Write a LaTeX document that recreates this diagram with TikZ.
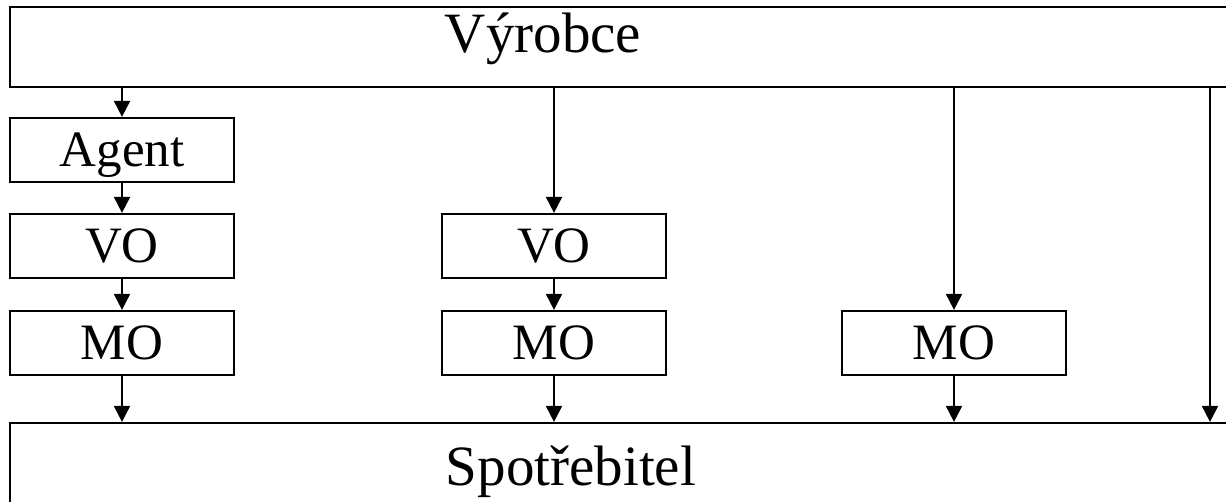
\documentclass[tikz,border=0pt]{standalone}
\usepackage{fontspec}
\setmainfont{Liberation Serif}
\usetikzlibrary{arrows.meta}
\begin{document}
\begin{tikzpicture}[x=1pt,y=-1pt,
  box/.style={draw=black, line width=2.2pt, inner sep=0pt, minimum width=224pt, minimum height=64pt,
    font=\fontsize{51}{60}\selectfont, text height=34pt, text depth=0pt},
  bigbox/.style={draw=black, line width=2.2pt, inner sep=0pt},
  biglabel/.style={font=\fontsize{57}{66}\selectfont, anchor=base, inner sep=0pt},
  arr/.style={line width=2pt, -{Triangle[length=16pt,width=16pt]}}]
\useasboundingbox (0,0) rectangle (1226,502);
\node[bigbox, minimum width=1230pt, minimum height=80pt] (vyr) at (625,47) {};
\node[biglabel] (vyrt) at (543,53) {Výrobce};
\node[bigbox, minimum width=1230pt, minimum height=97pt] (spot) at (625,471.5) {};
\node[biglabel] (spott) at (571,485) {Spotřebitel};
\node[box] (agent) at (122,150) {Agent};
\node[box] (vol) at (122,246) {VO};
\node[box] (mol) at (122,343) {MO};
\node[box] (vom) at (554,246) {VO};
\node[box] (mom) at (554,343) {MO};
\node[box] (mor) at (954,343) {MO};
\coordinate (rx) at (1210,250);
\draw[arr] (agent.north |- vyr.south) -- (agent.north);
\draw[arr] (agent.south) -- (vol.north);
\draw[arr] (vol.south) -- (mol.north);
\draw[arr] (mol.south) -- (mol.south |- spot.north);
\draw[arr] (vom.north |- vyr.south) -- (vom.north);
\draw[arr] (vom.south) -- (mom.north);
\draw[arr] (mom.south) -- (mom.south |- spot.north);
\draw[arr] (mor.north |- vyr.south) -- (mor.north);
\draw[arr] (mor.south) -- (mor.south |- spot.north);
\draw[arr] (rx |- vyr.south) -- (rx |- spot.north);
\end{tikzpicture}
\end{document}
